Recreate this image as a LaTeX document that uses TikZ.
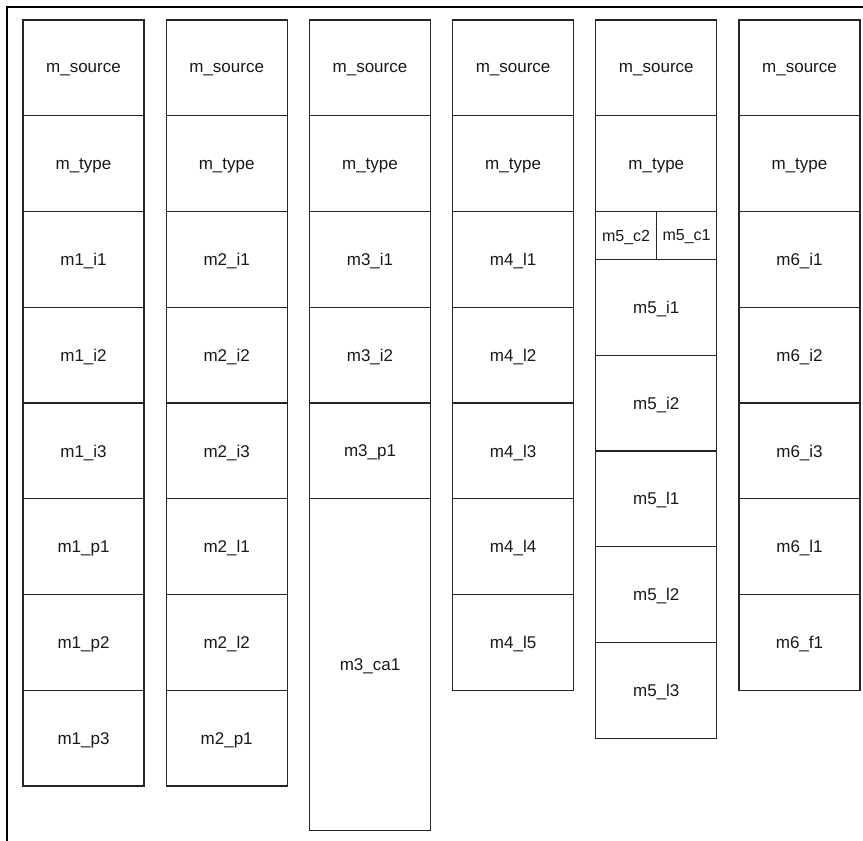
\documentclass[tikz,border=0pt]{standalone}
\usepackage{fontspec}
\setmainfont{Liberation Sans}
\usepackage{tikz}
\usetikzlibrary{positioning}
\tikzset{
  cell/.style={draw=black!85, line width=1.3pt, fill=white, outer sep=0pt,
               minimum width=121pt, minimum height=95.75pt, inner sep=0pt,
               text depth=0pt, font=\fontsize{17}{20}\selectfont, text=black!90},
  halfcell/.style={cell, minimum width=60.5pt, minimum height=47.9pt,
                   font=\fontsize{16}{18}\selectfont},
  tallcell/.style={cell, minimum height=332pt},
  frame/.style={line width=1.6pt, black},
}

\begin{document}
\begin{tikzpicture}[x=1pt, y=1pt]

  \useasboundingbox (0,0) rectangle (863,841);

  %% Outer frame (only top and left edges visible)
  \coordinate (ftl) at (7,834);
  \coordinate (ftr) at (863,834);
  \coordinate (fbl) at (7,0);
  \draw[frame] (ftr) -- (ftl) -- (fbl);

  %% Column 1
  \node[cell] (s1) at (83.5,773.1) {m\_source};
  \node[cell, below=0pt of s1] (t1) {m\_type};
  \node[cell, below=0pt of t1] (a1) {m1\_i1};
  \node[cell, below=0pt of a1] (b1) {m1\_i2};
  \node[cell, below=0pt of b1] (c1) {m1\_i3};
  \node[cell, below=0pt of c1] (d1) {m1\_p1};
  \node[cell, below=0pt of d1] (e1) {m1\_p2};
  \node[cell, below=0pt of e1] (f1) {m1\_p3};

  %% Column 2
  \node[cell] (s2) at (226.7,773.1) {m\_source};
  \node[cell, below=0pt of s2] (t2) {m\_type};
  \node[cell, below=0pt of t2] (a2) {m2\_i1};
  \node[cell, below=0pt of a2] (b2) {m2\_i2};
  \node[cell, below=0pt of b2] (c2) {m2\_i3};
  \node[cell, below=0pt of c2] (d2) {m2\_l1};
  \node[cell, below=0pt of d2] (e2) {m2\_l2};
  \node[cell, below=0pt of e2] (f2) {m2\_p1};

  %% Column 3
  \node[cell] (s3) at (370,773.1) {m\_source};
  \node[cell, below=0pt of s3] (t3) {m\_type};
  \node[cell, below=0pt of t3] (a3) {m3\_i1};
  \node[cell, below=0pt of a3] (b3) {m3\_i2};
  \node[cell, below=0pt of b3] (c3) {m3\_p1};
  \node[tallcell, below=0pt of c3] (d3) {m3\_ca1};

  %% Column 4
  \node[cell] (s4) at (513.1,773.1) {m\_source};
  \node[cell, below=0pt of s4] (t4) {m\_type};
  \node[cell, below=0pt of t4] (a4) {m4\_l1};
  \node[cell, below=0pt of a4] (b4) {m4\_l2};
  \node[cell, below=0pt of b4] (c4) {m4\_l3};
  \node[cell, below=0pt of c4] (d4) {m4\_l4};
  \node[cell, below=0pt of d4] (e4) {m4\_l5};

  %% Column 5 (split row under the type)
  \node[cell] (s5) at (656.3,773.1) {m\_source};
  \node[cell, below=0pt of s5] (t5) {m\_type};
  \node[halfcell, below=0pt of t5.south west, anchor=north west] (k5) {m5\_c2};
  \node[halfcell, right=0pt of k5] (j5) {m5\_c1};
  \node[cell, below=0pt of t5, yshift=-47.9pt] (a5) {m5\_i1};
  \node[cell, below=0pt of a5] (b5) {m5\_i2};
  \node[cell, below=0pt of b5] (c5) {m5\_l1};
  \node[cell, below=0pt of c5] (d5) {m5\_l2};
  \node[cell, below=0pt of d5] (e5) {m5\_l3};

  %% Column 6
  \node[cell] (s6) at (799.5,773.1) {m\_source};
  \node[cell, below=0pt of s6] (t6) {m\_type};
  \node[cell, below=0pt of t6] (a6) {m6\_i1};
  \node[cell, below=0pt of a6] (b6) {m6\_i2};
  \node[cell, below=0pt of b6] (c6) {m6\_i3};
  \node[cell, below=0pt of c6] (d6) {m6\_l1};
  \node[cell, below=0pt of d6] (e6) {m6\_f1};

\end{tikzpicture}
\end{document}
